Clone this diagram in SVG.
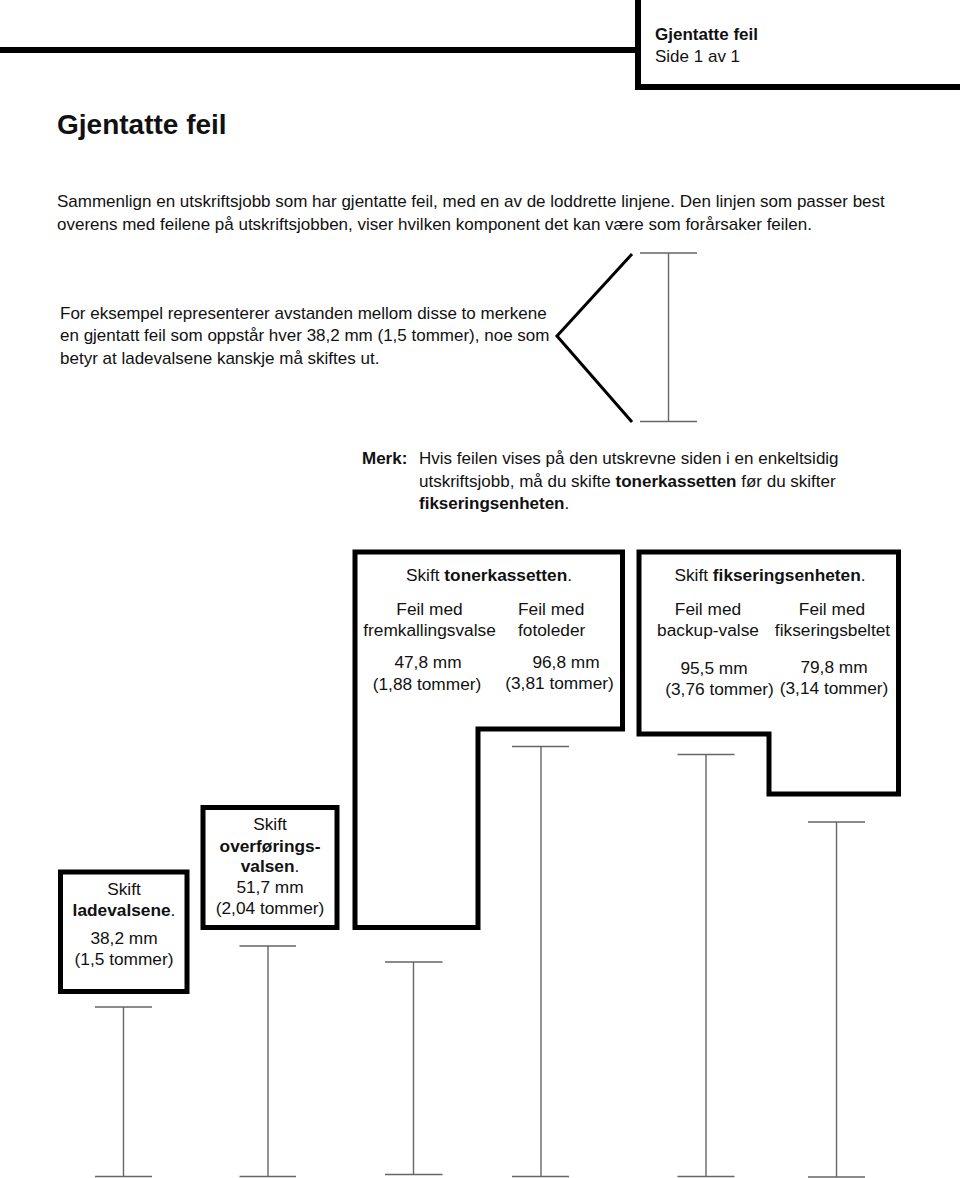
<svg xmlns="http://www.w3.org/2000/svg" width="960" height="1178" viewBox="0 0 960 1178">
<style>
text{font-family:"Liberation Sans",Arial,Helvetica,sans-serif;fill:#111;font-size:17px}
.bx text{font-size:17.3px}
.b{font-weight:bold}
.c{text-anchor:middle}
.frame{fill:none;stroke:#000;stroke-width:5}
.hdr{fill:none;stroke:#000;stroke-width:6}
.dim{stroke:#666;stroke-width:1.4;fill:none}
</style>
<rect width="960" height="1178" fill="#fff"/>
<g id="header">
<path class="hdr" d="M0,50 H638 M638,0 V90 M635,87 H960"/>
<text x="655" y="40" class="b">Gjentatte feil</text>
<text x="655" y="62">Side 1 av 1</text>
</g>
<text x="57" y="134" class="b" style="font-size:28px">Gjentatte feil</text>
<g id="intro">
<text x="57" y="207">Sammenlign en utskriftsjobb som har gjentatte feil, med en av de loddrette linjene. Den linjen som passer best</text>
<text x="57" y="230">overens med feilene på utskriftsjobben, viser hvilken komponent det kan være som forårsaker feilen.</text>
</g>
<g id="example">
<text x="60" y="319">For eksempel representerer avstanden mellom disse to merkene</text>
<text x="60" y="341">en gjentatt feil som oppstår hver 38,2 mm (1,5 tommer), noe som</text>
<text x="60" y="364">betyr at ladevalsene kanskje må skiftes ut.</text>
</g>
<g id="bracket">
<polyline points="632,254 557,336 632,422" fill="none" stroke="#000" stroke-width="3"/>
</g>
<g id="note">
<text x="362" y="464" class="b">Merk:</text>
<text x="419" y="464">Hvis feilen vises på den utskrevne siden i en enkeltsidig</text>
<text x="419" y="487">utskriftsjobb, må du skifte <tspan class="b">tonerkassetten</tspan> før du skifter</text>
<text x="419" y="509"><tspan class="b">fikseringsenheten</tspan>.</text>
</g>
<g id="toner" class="bx">
<path class="frame" d="M355,552 H622.5 V729 H478 V927.5 H355 Z"/>
<text x="489" y="581" class="c">Skift <tspan class="b">tonerkassetten</tspan>.</text>
<text x="429.5" y="615" class="c">Feil med</text>
<text x="429.5" y="636" class="c">fremkallingsvalse</text>
<text x="518" y="615">Feil med</text>
<text x="518" y="636">fotoleder</text>
<text x="428" y="668" class="c">47,8 mm</text>
<text x="427" y="690" class="c">(1,88 tommer)</text>
<text x="566" y="668" class="c">96,8 mm</text>
<text x="559.5" y="689" class="c">(3,81 tommer)</text>
</g>
<g id="fuser" class="bx">
<path class="frame" d="M639,552 H898.5 V794 H769 V734 H639 Z"/>
<text x="770" y="581" class="c">Skift <tspan class="b">fikseringsenheten</tspan>.</text>
<text x="708" y="615" class="c">Feil med</text>
<text x="708" y="636" class="c">backup-valse</text>
<text x="832" y="615" class="c">Feil med</text>
<text x="832.5" y="636" class="c">fikseringsbeltet</text>
<text x="714" y="674" class="c">95,5 mm</text>
<text x="719.5" y="695" class="c">(3,76 tommer)</text>
<text x="834" y="673" class="c">79,8 mm</text>
<text x="834" y="694" class="c">(3,14 tommer)</text>
</g>
<g id="ladevalsene" class="bx">
<rect class="frame" x="60.5" y="872" width="126.5" height="119.5"/>
<text x="124" y="895" class="c">Skift</text>
<text x="124" y="916" class="c"><tspan class="b">ladevalsene</tspan>.</text>
<text x="124" y="944" class="c">38,2 mm</text>
<text x="124" y="965" class="c">(1,5 tommer)</text>
</g>
<g id="overforingsvalsen" class="bx">
<rect class="frame" x="203" y="807.5" width="134" height="120"/>
<text x="270" y="830" class="c">Skift</text>
<text x="270" y="852" class="c b">overførings-</text>
<text x="270" y="872" class="c"><tspan class="b">valsen</tspan>.</text>
<text x="270" y="893" class="c">51,7 mm</text>
<text x="270" y="914" class="c">(2,04 tommer)</text>
</g>
<g id="connectors">
<path class="dim" d="M640,253 H697 M668.5,253 V421.5 M640,421.5 H697"/>
<path class="dim" d="M95,1007 H152 M123.5,1007 V1176.5 M95,1176.5 H152"/>
<path class="dim" d="M239.5,946 H296 M268,946 V1176.5 M239.5,1176.5 H296"/>
<path class="dim" d="M385,962 H442.5 M413.5,962 V1174.5 M385,1174.5 H442.5"/>
<path class="dim" d="M512,746.5 H569 M541,746.5 V1176.5 M512,1176.5 H569"/>
<path class="dim" d="M677.5,754.5 H734.5 M706,754.5 V1176.5 M677.5,1176.5 H734.5"/>
<path class="dim" d="M808,822 H865 M836.5,822 V1177 M808,1177 H865"/>
</g>
</svg>
